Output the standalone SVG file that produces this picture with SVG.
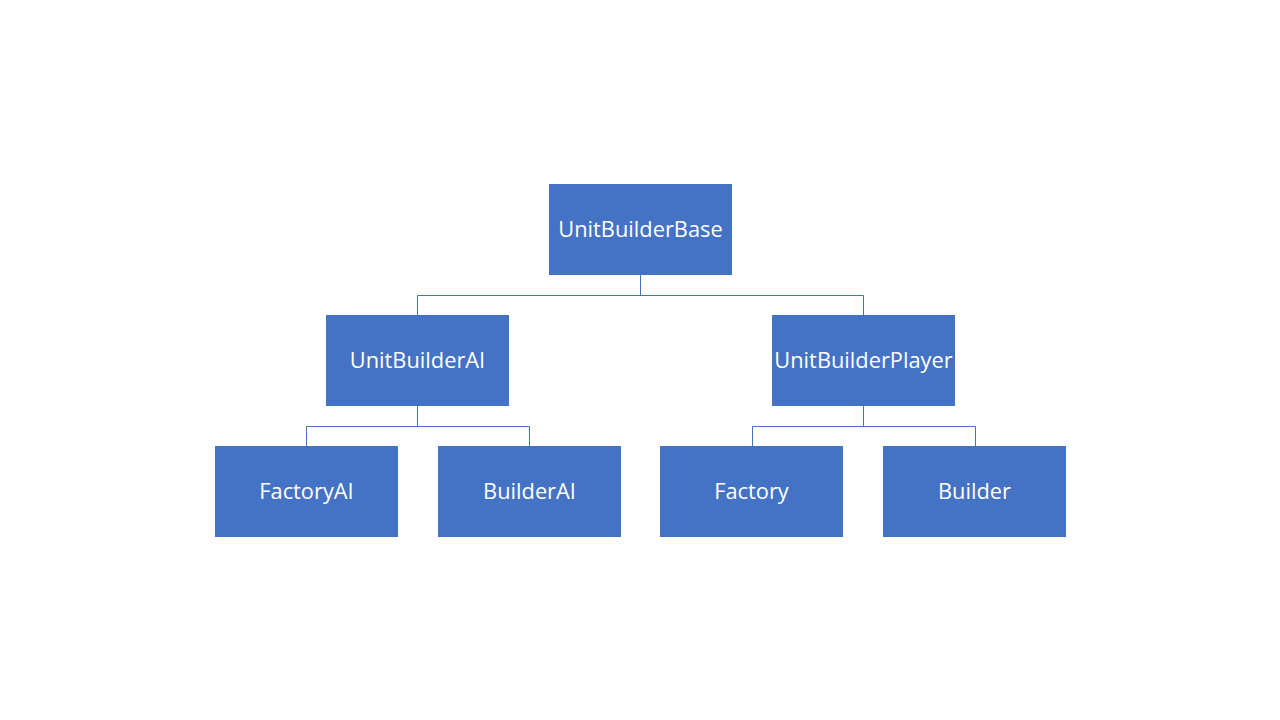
<svg xmlns="http://www.w3.org/2000/svg" width="1280" height="720" viewBox="0 0 1280 720">
<style>
.box{fill:#4472C4;}
.lbl{fill:#FFFFFF;font-family:"Open Sans","Liberation Sans",sans-serif;font-size:21.8px;text-anchor:middle;dominant-baseline:central;}
.conn{fill:none;stroke:#4472C4;stroke-width:1;}
</style>
<rect width="1280" height="720" fill="#FFFFFF"/>
<g id="connectors">
<path class="conn" d="M640.5 274 V295.5 M417.5 295.5 H863.5 M417.5 295.5 V315 M863.5 295.5 V315"/>
<path class="conn" d="M417.5 405 V426.5 M306.5 426.5 H529.5 M306.5 426.5 V446 M529.5 426.5 V446"/>
<path class="conn" d="M863.5 405 V426.5 M752.5 426.5 H975.5 M752.5 426.5 V446 M975.5 426.5 V446"/>
</g>
<g id="UnitBuilderBase"><rect class="box" x="549" y="184" width="183" height="91"/><text class="lbl" x="640.5" y="228">UnitBuilderBase</text></g>
<g id="UnitBuilderAI"><rect class="box" x="326" y="315" width="183" height="91"/><text class="lbl" x="417.5" y="359">UnitBuilderAI</text></g>
<g id="UnitBuilderPlayer"><rect class="box" x="772" y="315" width="183" height="91"/><text class="lbl" x="863.5" y="359">UnitBuilderPlayer</text></g>
<g id="FactoryAI"><rect class="box" x="215" y="446" width="183" height="91"/><text class="lbl" x="306.5" y="490">FactoryAI</text></g>
<g id="BuilderAI"><rect class="box" x="438" y="446" width="183" height="91"/><text class="lbl" x="529.5" y="490">BuilderAI</text></g>
<g id="Factory"><rect class="box" x="660" y="446" width="183" height="91"/><text class="lbl" x="751.5" y="490">Factory</text></g>
<g id="Builder"><rect class="box" x="883" y="446" width="183" height="91"/><text class="lbl" x="974.5" y="490">Builder</text></g>
</svg>
